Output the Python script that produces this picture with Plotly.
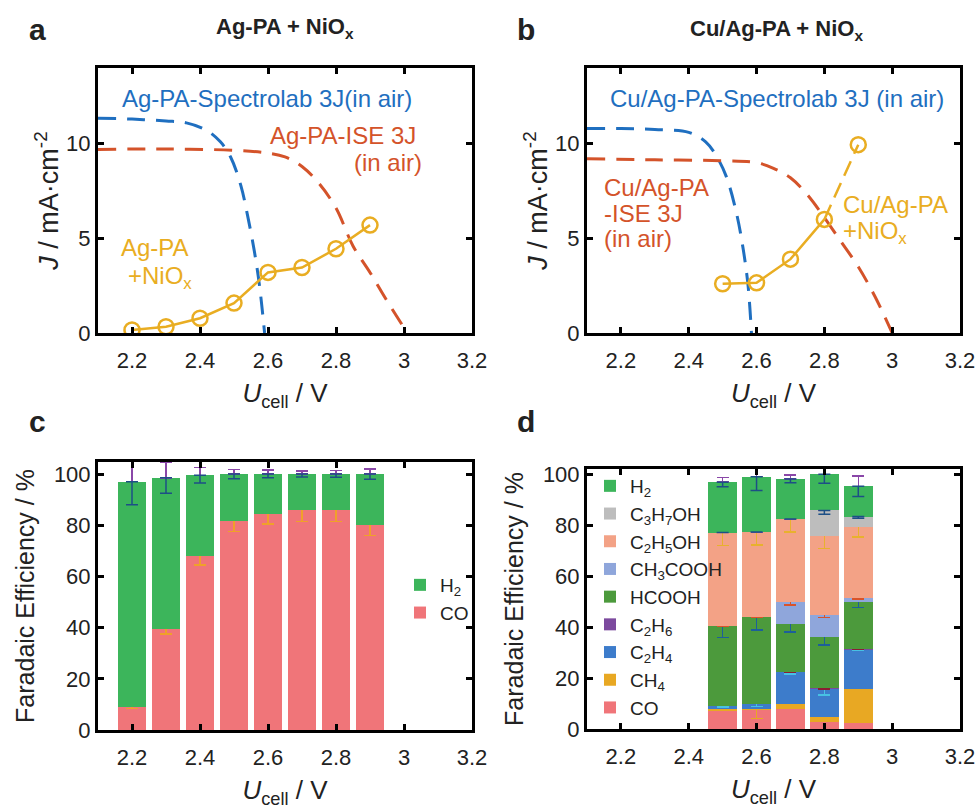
import plotly.graph_objects as go
import numpy as np

# ---------------- data ----------------
# panel a
a_spec_v = [2.10, 2.20, 2.30, 2.36, 2.42, 2.46, 2.49, 2.52, 2.54, 2.56, 2.575, 2.59]
a_spec_j = [11.35, 11.3, 11.2, 11.1, 10.7, 10.1, 9.3, 7.8, 6.2, 4.3, 2.5, 0.0]
a_ise_v = [2.10, 2.30, 2.50, 2.60, 2.65, 2.70, 2.75, 2.80, 2.85, 2.90, 2.95, 3.01]
a_ise_j = [9.7, 9.72, 9.65, 9.5, 9.3, 8.8, 7.9, 6.6, 4.6, 3.2, 1.7, 0.0]
a_pa_v = [2.2, 2.3, 2.4, 2.5, 2.6, 2.7, 2.8, 2.9]
a_pa_j = [0.16, 0.33, 0.78, 1.58, 3.2, 3.46, 4.45, 5.7]

# panel b
b_spec_v = [2.10, 2.20, 2.30, 2.40, 2.45, 2.48, 2.51, 2.54, 2.56, 2.575, 2.585]
b_spec_j = [10.8, 10.8, 10.75, 10.6, 10.1, 9.4, 8.3, 6.4, 4.5, 2.5, 0.0]
b_ise_v = [2.10, 2.30, 2.50, 2.60, 2.65, 2.70, 2.75, 2.80, 2.85, 2.90, 2.95, 3.00]
b_ise_j = [9.2, 9.15, 9.1, 9.0, 8.7, 8.2, 7.3, 6.1, 4.8, 3.5, 1.9, 0.0]
b_pa_v = [2.5, 2.6, 2.7, 2.8, 2.9]
b_pa_j = [2.6, 2.65, 3.9, 6.0, 9.95]

# panel c
c_v = [2.2, 2.3, 2.4, 2.5, 2.6, 2.7, 2.8, 2.9]
c_co = [9.0, 39.5, 68.0, 81.5, 84.5, 86.0, 86.0, 80.0]
c_co_err = [0.6, 2.0, 3.5, 4.0, 4.0, 4.5, 4.5, 4.0]
c_h2 = [88.0, 59.0, 31.5, 18.5, 15.5, 14.0, 14.0, 20.0]
c_h2_err = [9.0, 6.0, 3.0, 1.8, 1.5, 1.2, 1.3, 2.0]

# panel d
d_v = [2.5, 2.6, 2.7, 2.8, 2.9]
d_products = ["CO", "CH4", "C2H4", "C2H6", "HCOOH", "CH3COOH", "C2H5OH", "C3H7OH", "H2"]
d_labels = ["CO", "CH<sub>4</sub>", "C<sub>2</sub>H<sub>4</sub>", "C<sub>2</sub>H<sub>6</sub>", "HCOOH",
            "CH<sub>3</sub>COOH", "C<sub>2</sub>H<sub>5</sub>OH", "C<sub>3</sub>H<sub>7</sub>OH", "H<sub>2</sub>"]
d_CO = [7.2, 7.5, 7.9, 2.6, 2.2]
d_CH4 = [0.5, 0.5, 2.0, 2.0, 13.6]
d_C2H4 = [1.5, 2.0, 12.5, 11.2, 15.5]
d_C2H6 = [0.0, 0.0, 0.0, 0.3, 0.3]
d_HCOOH = [31.3, 34.0, 18.8, 20.0, 18.3]
d_CH3COOH = [0.0, 0.0, 8.8, 8.7, 1.7]
d_C2H5OH = [36.7, 33.4, 32.5, 31.2, 27.9]
d_C3H7OH = [0.0, 0.0, 0.0, 9.9, 4.0]
d_H2 = [19.8, 21.8, 15.8, 14.2, 11.9]
d_err_CO = [0.3, 0.3, 0.3, 0.3, 0.3]
d_err_CH4 = [0.4, 3.8, 0.5, 0.5, 0.3]
d_err_C2H4 = [0.5, 1.2, 0.8, 2.5, 0.3]
d_err_C2H6 = [0.0, 0.0, 0.0, 0.3, 0.3]
d_err_HCOOH = [4.5, 5.0, 3.0, 3.0, 2.2]
d_err_CH3COOH = [0.0, 0.0, 1.2, 1.0, 0.5]
d_err_C2H5OH = [5.0, 5.0, 5.0, 5.0, 4.0]
d_err_C3H7OH = [0.0, 0.0, 0.0, 1.5, 0.7]
d_err_H2 = [1.8, 5.5, 1.5, 3.5, 4.0]

x_ticks = [2.2, 2.4, 2.6, 2.8, 3.0, 3.2]
x_ticktext = ["2.2", "2.4", "2.6", "2.8", "3", "3.2"]

# ---------------- styles ----------------
BLUE = "#1f6fc0"
RED = "#d4532a"
ORANGE = "#e9ad22"
PURPLE = "#8a47a8"
NAVY = "#1d4f86"
FONT = "Liberation Sans, Arial, sans-serif"
W, H = 976, 809

d_colors = {"CO": "#f07579", "CH4": "#e8a823", "C2H4": "#3d7ccb", "C2H6": "#7c4a9e",
            "HCOOH": "#4c9a3c", "CH3COOH": "#8fa6db", "C2H5OH": "#f3a286",
            "C3H7OH": "#bdbdbd", "H2": "#3cb55b"}
d_errcolors = {"CO": "#f07579", "CH4": "#e8a823", "C2H4": "#47c1e3", "C2H6": "#8b1d33",
               "HCOOH": "#1d5f9a", "CH3COOH": "#d9532a", "C2H5OH": "#e8b12e",
               "C3H7OH": PURPLE, "H2": PURPLE}
d_split = {"C3H7OH", "H2"}   # error bars drawn purple above / navy below
d_values = {"CO": d_CO, "CH4": d_CH4, "C2H4": d_C2H4, "C2H6": d_C2H6, "HCOOH": d_HCOOH,
            "CH3COOH": d_CH3COOH, "C2H5OH": d_C2H5OH, "C3H7OH": d_C3H7OH, "H2": d_H2}
d_errs = {"CO": d_err_CO, "CH4": d_err_CH4, "C2H4": d_err_C2H4, "C2H6": d_err_C2H6,
          "HCOOH": d_err_HCOOH, "CH3COOH": d_err_CH3COOH, "C2H5OH": d_err_C2H5OH,
          "C3H7OH": d_err_C3H7OH, "H2": d_err_H2}


def px_dom(a, b, total):
    return [a / total, b / total]


def py_dom(top, bottom):
    return [1 - bottom / H, 1 - top / H]


fig = go.Figure()

dash_line = dict(width=3, dash="18px,11px")

# panel a
fig.add_trace(go.Scatter(x=a_spec_v, y=a_spec_j, mode="lines", line=dict(color=BLUE, shape="spline", **dash_line),
                         xaxis="x", yaxis="y", showlegend=False))
fig.add_trace(go.Scatter(x=a_ise_v, y=a_ise_j, mode="lines", line=dict(color=RED, shape="spline", **dash_line),
                         xaxis="x", yaxis="y", showlegend=False))
fig.add_trace(go.Scatter(x=a_pa_v, y=a_pa_j, mode="lines+markers", line=dict(color=ORANGE, width=2.5),
                         marker=dict(symbol="circle-open", size=15, color=ORANGE, line=dict(width=2.5)),
                         xaxis="x", yaxis="y", showlegend=False))

# panel b
fig.add_trace(go.Scatter(x=b_spec_v, y=b_spec_j, mode="lines", line=dict(color=BLUE, shape="spline", **dash_line),
                         xaxis="x2", yaxis="y2", showlegend=False))
fig.add_trace(go.Scatter(x=b_ise_v, y=b_ise_j, mode="lines", line=dict(color=RED, shape="spline", **dash_line),
                         xaxis="x2", yaxis="y2", showlegend=False))
fig.add_trace(go.Scatter(x=b_pa_v[:4], y=b_pa_j[:4], mode="lines", line=dict(color=ORANGE, width=2.5),
                         xaxis="x2", yaxis="y2", showlegend=False))
fig.add_trace(go.Scatter(x=b_pa_v[3:], y=b_pa_j[3:], mode="lines", line=dict(color=ORANGE, width=2.5, dash="16px,8px"),
                         xaxis="x2", yaxis="y2", showlegend=False))
fig.add_trace(go.Scatter(x=b_pa_v, y=b_pa_j, mode="markers",
                         marker=dict(symbol="circle-open", size=15, color=ORANGE, line=dict(width=2.5)),
                         xaxis="x2", yaxis="y2", showlegend=False))

# panel c
BW = 0.084
fig.add_trace(go.Bar(x=c_v, y=c_co, width=BW, name="CO", marker=dict(color="#f07579", line=dict(width=0)),
                     error_y=dict(type="data", array=c_co_err, color="#f0a02a", thickness=1.5, width=6),
                     xaxis="x3", yaxis="y3", legend="legend"))
fig.add_trace(go.Bar(x=c_v, y=c_h2, width=BW, name="H<sub>2</sub>", marker=dict(color="#3cb55b", line=dict(width=0)),
                     error_y=dict(type="data", symmetric=False, array=c_h2_err, arrayminus=[0] * len(c_h2_err),
                                  color=PURPLE, thickness=1.5, width=6),
                     xaxis="x3", yaxis="y3", legend="legend"))
c_tot = list(np.array(c_co) + np.array(c_h2))
fig.add_trace(go.Scatter(x=c_v, y=c_tot, mode="markers", marker=dict(size=1, opacity=0),
                         error_y=dict(type="data", symmetric=False, array=[0] * len(c_h2_err), arrayminus=c_h2_err,
                                      color=NAVY, thickness=1.5, width=6),
                         xaxis="x3", yaxis="y3", showlegend=False, hoverinfo="skip"))

# panel d
cum = np.zeros(len(d_v))
split_tops = []
for p, lab in zip(d_products, d_labels):
    vals = np.array(d_values[p])
    cum = cum + vals
    if p in d_split:
        err = dict(type="data", symmetric=False, array=d_errs[p], arrayminus=[0] * len(d_v),
                   color=d_errcolors[p], thickness=1.5, width=6)
        split_tops.append((p, cum.copy()))
    else:
        err = dict(type="data", array=d_errs[p], color=d_errcolors[p], thickness=1.5, width=6)
    fig.add_trace(go.Bar(x=d_v, y=d_values[p], width=BW, name=lab,
                         marker=dict(color=d_colors[p], line=dict(width=0)),
                         error_y=err, xaxis="x4", yaxis="y4", legend="legend2"))
for p, tops in split_tops:
    fig.add_trace(go.Scatter(x=d_v, y=list(tops), mode="markers", marker=dict(size=1, opacity=0),
                             error_y=dict(type="data", symmetric=False, array=[0] * len(d_v), arrayminus=d_errs[p],
                                          color=NAVY, thickness=1.5, width=6),
                             xaxis="x4", yaxis="y4", showlegend=False, hoverinfo="skip"))

axis_common = dict(showline=True, linecolor="black", linewidth=3, mirror="allticks", ticks="inside",
                   ticklen=6, tickwidth=3, tickcolor="black", showgrid=False, zeroline=False,
                   automargin=False,
                   tickfont=dict(family=FONT, size=22, color="#222"))
xcommon = dict(axis_common, range=[2.1, 3.2], tickvals=x_ticks, ticktext=x_ticktext, ticklabelstandoff=6,
               title=dict(text="<i>U</i><sub>cell</sub> / V", font=dict(family=FONT, size=26, color="#222"), standoff=12))

ya_title = dict(text="<i>J</i> / mA\u00b7cm<sup>-2</sup>", font=dict(family=FONT, size=27, color="#222"), standoff=0)
yc_title = dict(text="Faradaic Efficiency / %", font=dict(family=FONT, size=25, color="#222"), standoff=13)

fig.update_layout(
    width=W, height=H, margin=dict(l=0, r=0, t=0, b=0), paper_bgcolor="white", plot_bgcolor="white",
    font=dict(family=FONT, color="#222"), barmode="stack",
    xaxis=dict(xcommon, domain=px_dom(98, 472, W), anchor="y"),
    yaxis=dict(axis_common, domain=py_dom(68, 333), range=[0, 14], tickvals=[0, 5, 10], anchor="x", title=ya_title),
    xaxis2=dict(xcommon, domain=px_dom(587, 960, W), anchor="y2"),
    yaxis2=dict(axis_common, domain=py_dom(68, 333), range=[0, 14], tickvals=[0, 5, 10], anchor="x2", title=ya_title),
    xaxis3=dict(xcommon, domain=px_dom(98, 472, W), anchor="y3"),
    yaxis3=dict(axis_common, domain=py_dom(462, 730), range=[0, 104.7], tickvals=[0, 20, 40, 60, 80, 100],
                anchor="x3", title=yc_title),
    xaxis4=dict(xcommon, domain=px_dom(587, 960, W), anchor="y4"),
    yaxis4=dict(axis_common, domain=py_dom(469, 729), range=[0, 102.2], tickvals=[0, 20, 40, 60, 80, 100],
                anchor="x4", title=yc_title),
    legend=dict(x=400 / W, y=1 - 566 / H, xanchor="left", yanchor="top", traceorder="reversed",
                font=dict(family=FONT, size=19, color="#222"), bgcolor="rgba(0,0,0,0)", itemwidth=30,
                tracegroupgap=0),
    legend2=dict(x=590 / W, y=1 - 467 / H, xanchor="left", yanchor="top", traceorder="reversed",
                 font=dict(family=FONT, size=19, color="#222"), bgcolor="rgba(0,0,0,0)", itemwidth=30,
                 tracegroupgap=0),
)

ann = []


def add_text(x, y, text, size=20, color="#222", bold=False, xanchor="center", yanchor="middle"):
    t = f"<b>{text}</b>" if bold else text
    ann.append(dict(x=x / W, y=1 - y / H, xref="paper", yref="paper", text=t, showarrow=False,
                    font=dict(family=FONT, size=size, color=color), xanchor=xanchor, yanchor=yanchor))


add_text(37, 30, "a", size=30, bold=True)
add_text(526, 30, "b", size=30, bold=True)
add_text(37, 422, "c", size=30, bold=True)
add_text(526, 421, "d", size=30, bold=True)
add_text(285, 28, "Ag-PA + NiO<sub>x</sub>", size=22, bold=True)
add_text(776, 30, "Cu/Ag-PA + NiO<sub>x</sub>", size=22, bold=True)

TS = 24
# panel a labels
add_text(267, 98, "Ag-PA-Spectrolab 3J(in air)", size=TS, color=BLUE)
add_text(418, 136, "Ag-PA-ISE 3J", size=TS, color=RED, xanchor="right")
add_text(424, 162, "(in air)", size=TS, color=RED, xanchor="right")
add_text(155, 248, "Ag-PA", size=TS, color=ORANGE)
add_text(160, 277, "+NiO<sub>x</sub>", size=TS, color=ORANGE)

# panel b labels
add_text(777, 99, "Cu/Ag-PA-Spectrolab 3J (in air)", size=TS, color=BLUE)
add_text(602, 187, "Cu/Ag-PA", size=TS, color=RED, xanchor="left")
add_text(602, 213, "-ISE 3J", size=TS, color=RED, xanchor="left")
add_text(602, 239, "(in air)", size=TS, color=RED, xanchor="left")
add_text(841, 204, "Cu/Ag-PA", size=TS, color=ORANGE, xanchor="left")
add_text(841, 232, "+NiO<sub>x</sub>", size=TS, color=ORANGE, xanchor="left")

fig.update_layout(annotations=ann)

fig.write_html("out.html")
